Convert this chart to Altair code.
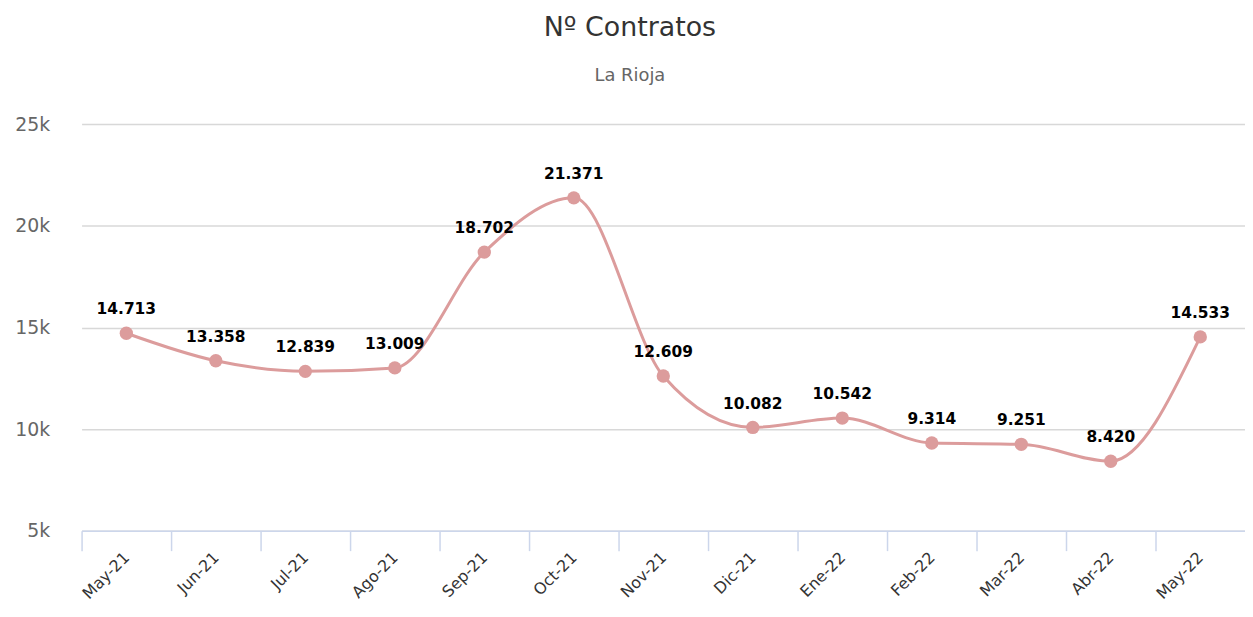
import altair as alt
import pandas as pd

months = ["May-21", "Jun-21", "Jul-21", "Ago-21", "Sep-21", "Oct-21", "Nov-21",
          "Dic-21", "Ene-22", "Feb-22", "Mar-22", "Abr-22", "May-22"]
values = [14713, 13358, 12839, 13009, 18702, 21371, 12609,
          10082, 10542, 9314, 9251, 8420, 14533]
labels = ["14.713", "13.358", "12.839", "13.009", "18.702", "21.371", "12.609",
          "10.082", "10.542", "9.314", "9.251", "8.420", "14.533"]

df = pd.DataFrame({"mes": months, "valor": values, "etiqueta": labels})

COLOR = "#dc9c9c"
FONT = "DejaVu Sans"

x = alt.X("mes:N", sort=months, title=None,
          scale=alt.Scale(paddingInner=0, paddingOuter=0),
          axis=alt.Axis(tickOffset=-45, labelOffset=45, labelAngle=-45,
                        labelAlign="right", labelBaseline="middle",
                        labelPadding=4, labelFontSize=16, labelColor="#333333",
                        labelFont=FONT, tickSize=20, tickColor="#ccd6eb",
                        tickWidth=1.5, domainColor="#ccd6eb", domainWidth=1.5,
                        grid=False, labelOverlap=False))
y = alt.Y("valor:Q", title=None,
          scale=alt.Scale(domain=[5000, 25000], nice=False, zero=False),
          axis=alt.Axis(values=[5000, 10000, 15000, 20000, 25000], format="~s",
                        labelFontSize=19, labelColor="#666666", labelFont=FONT,
                        labelPadding=32, domain=False, ticks=False,
                        gridColor="#d8d8d8", gridWidth=1.5))

base = alt.Chart(df).encode(x=x, y=y)

line = base.mark_line(color=COLOR, strokeWidth=3, interpolate="monotone")
points = base.mark_circle(color=COLOR, size=180, opacity=1)
text = base.mark_text(dy=-19, fontSize=15.5, fontWeight="bold", font=FONT,
                      color="#000000", baseline="alphabetic").encode(text="etiqueta:N")

chart = (line + points + text).properties(
    width=1170, height=409,
    title=alt.TitleParams(text="Nº Contratos", subtitle="La Rioja",
                          font=FONT, fontSize=27, fontWeight="normal",
                          color="#333333", subtitleFont=FONT,
                          subtitleFontSize=18, subtitleColor="#666666",
                          subtitlePadding=26, offset=29, anchor="middle",
                          frame="bounds"),
    padding={"left": 74, "top": 115, "right": 0, "bottom": 80},
    autosize=alt.AutoSizeParams(type="none"),
).configure_view(stroke=None)

chart.save("out.html", embed_options={"renderer": "svg", "actions": False})
